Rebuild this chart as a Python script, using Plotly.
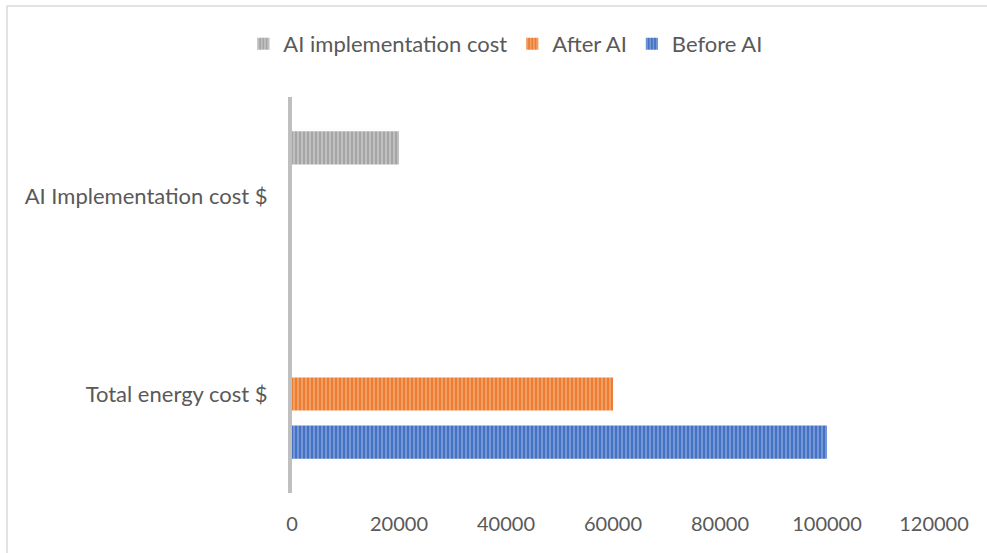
import plotly.graph_objects as go

categories = ["Total energy cost $", "AI Implementation cost $"]
before_ai = [100000, None]
after_ai = [60000, None]
ai_implementation = [None, 20000]
x_ticks = [0, 20000, 40000, 60000, 80000, 100000, 120000]

FONT = "Lato"
TEXT = "#595959"


def striped(name, values, base, light):
    return go.Bar(
        name=name,
        y=categories,
        x=values,
        orientation="h",
        marker=dict(
            color=base,
            line=dict(width=0),
            pattern=dict(shape="|", fillmode="overlay", fgcolor=light,
                         size=4, solidity=0.5),
        ),
    )


fig = go.Figure([
    striped("Before AI", before_ai, "#4472C4", "#A3BAE4"),
    striped("After AI", after_ai, "#ED7D31", "#F8C29C"),
    striped("AI implementation cost", ai_implementation, "#A5A5A5", "#DCDCDC"),
])

fig.update_layout(
    width=987,
    height=553,
    margin=dict(l=292, r=53, t=97, b=60),
    paper_bgcolor="white",
    plot_bgcolor="white",
    barmode="group",
    bargap=0.27,
    bargroupgap=0.31,
    font=dict(family=FONT, size=22, color=TEXT),
    legend=dict(
        orientation="h",
        traceorder="reversed",
        xref="container", yref="container",
        x=0.512, y=1 - 44 / 553,
        xanchor="center", yanchor="middle",
        font=dict(family=FONT, size=22, color=TEXT),
        itemwidth=30,
    ),
    xaxis=dict(
        range=[0, 120000],
        tickvals=x_ticks,
        ticktext=[str(v) for v in x_ticks],
        tickfont=dict(family=FONT, size=20, color=TEXT),
        showgrid=False,
        zeroline=False,
        showline=False,
        ticks="",
        ticklabelstandoff=17,
    ),
    yaxis=dict(
        categoryorder="array",
        categoryarray=categories,
        tickfont=dict(family=FONT, size=22, color=TEXT),
        showgrid=False,
        showline=True,
        linecolor="#BFBFBF",
        linewidth=4,
        ticks="",
        ticklabelstandoff=16,
    ),
    shapes=[
        dict(type="rect", xref="paper", yref="paper",
             x0=(7 - 292) / 642, x1=1.2, y0=-0.3, y1=(493 - 6) / 396,
             line=dict(color="#D9D9D9", width=1.5), fillcolor="rgba(0,0,0,0)",
             layer="below"),
    ],
)

fig.write_html("out.html")
